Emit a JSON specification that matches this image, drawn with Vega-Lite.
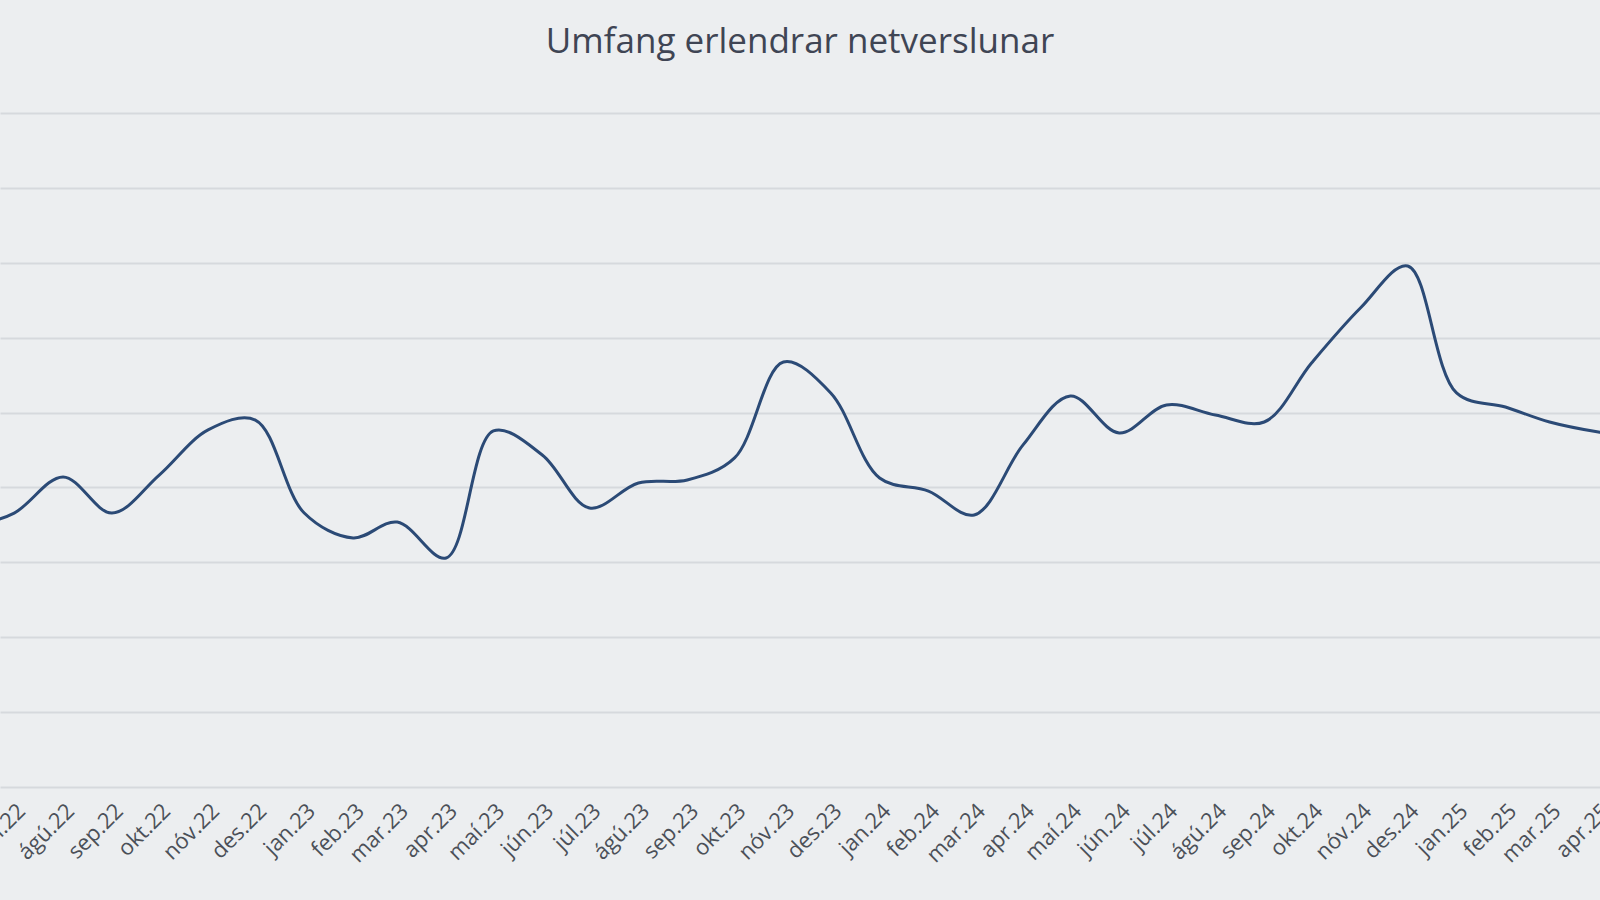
{
  "$schema": "https://vega.github.io/schema/vega-lite/v6.json",
  "width": 1600,
  "height": 674,
  "autosize": {"type": "none"},
  "padding": {"top": 113, "left": 0, "right": 0, "bottom": 113},
  "background": "#eceef0",
  "title": {
    "text": "Umfang erlendrar netverslunar",
    "anchor": "middle",
    "font": "Open Sans",
    "fontSize": 35,
    "fontWeight": "normal",
    "color": "#3f4554",
    "offset": 53
  },
  "data": {
    "values": [
      {"date": "2022-06-01", "value": 1729},
      {"date": "2022-07-01", "value": 1829},
      {"date": "2022-08-01", "value": 2070},
      {"date": "2022-09-01", "value": 1829},
      {"date": "2022-10-01", "value": 2083},
      {"date": "2022-11-01", "value": 2384},
      {"date": "2022-12-01", "value": 2450},
      {"date": "2023-01-01", "value": 1829},
      {"date": "2023-02-01", "value": 1663},
      {"date": "2023-03-01", "value": 1769},
      {"date": "2023-04-01", "value": 1529},
      {"date": "2023-05-01", "value": 2377},
      {"date": "2023-06-01", "value": 2217},
      {"date": "2023-07-01", "value": 1863},
      {"date": "2023-08-01", "value": 2030},
      {"date": "2023-09-01", "value": 2050},
      {"date": "2023-10-01", "value": 2197},
      {"date": "2023-11-01", "value": 2838},
      {"date": "2023-12-01", "value": 2631},
      {"date": "2024-01-01", "value": 2063},
      {"date": "2024-02-01", "value": 1976},
      {"date": "2024-03-01", "value": 1816},
      {"date": "2024-04-01", "value": 2284},
      {"date": "2024-05-01", "value": 2611},
      {"date": "2024-06-01", "value": 2364},
      {"date": "2024-07-01", "value": 2551},
      {"date": "2024-08-01", "value": 2484},
      {"date": "2024-09-01", "value": 2437},
      {"date": "2024-10-01", "value": 2831},
      {"date": "2024-11-01", "value": 3198},
      {"date": "2024-12-01", "value": 3479},
      {"date": "2025-01-01", "value": 2631},
      {"date": "2025-02-01", "value": 2537},
      {"date": "2025-03-01", "value": 2437},
      {"date": "2025-04-01", "value": 2370},
      {"date": "2025-05-01", "value": 2330}
    ]
  },
  "mark": {
    "type": "line",
    "interpolate": "catmull-rom",
    "color": "#2b4a76",
    "strokeWidth": 3,
    "clip": true
  },
  "encoding": {
    "x": {
      "field": "date",
      "type": "temporal",
      "scale": {"domain": ["2022-06-22", "2025-04-02"], "nice": false},
      "axis": {
        "title": null,
        "grid": false,
        "ticks": false,
        "domain": true,
        "domainColor": "#d6d9dd",
        "domainWidth": 2,
        "tickCount": {"interval": "month", "step": 1},
        "labelExpr": "['jan','feb','mar','apr','maí','jún','júl','ágú','sep','okt','nóv','des'][month(datum.value)] + '.' + timeFormat(datum.value, '%y')",
        "labelAngle": -45,
        "labelFont": "Open Sans",
        "labelFontSize": 22,
        "labelColor": "#4b5058",
        "labelPadding": 13,
        "labelFlush": false,
        "labelOverlap": false,
        "labelBound": false
      }
    },
    "y": {
      "field": "value",
      "type": "quantitative",
      "scale": {"domain": [0, 4500]},
      "axis": {
        "title": null,
        "labels": false,
        "ticks": false,
        "domain": false,
        "values": [500, 1000, 1500, 2000, 2500, 3000, 3500, 4000, 4500],
        "gridColor": "#d6d9dd",
        "gridWidth": 2
      }
    }
  },
  "config": {
    "view": {"stroke": null}
  }
}
